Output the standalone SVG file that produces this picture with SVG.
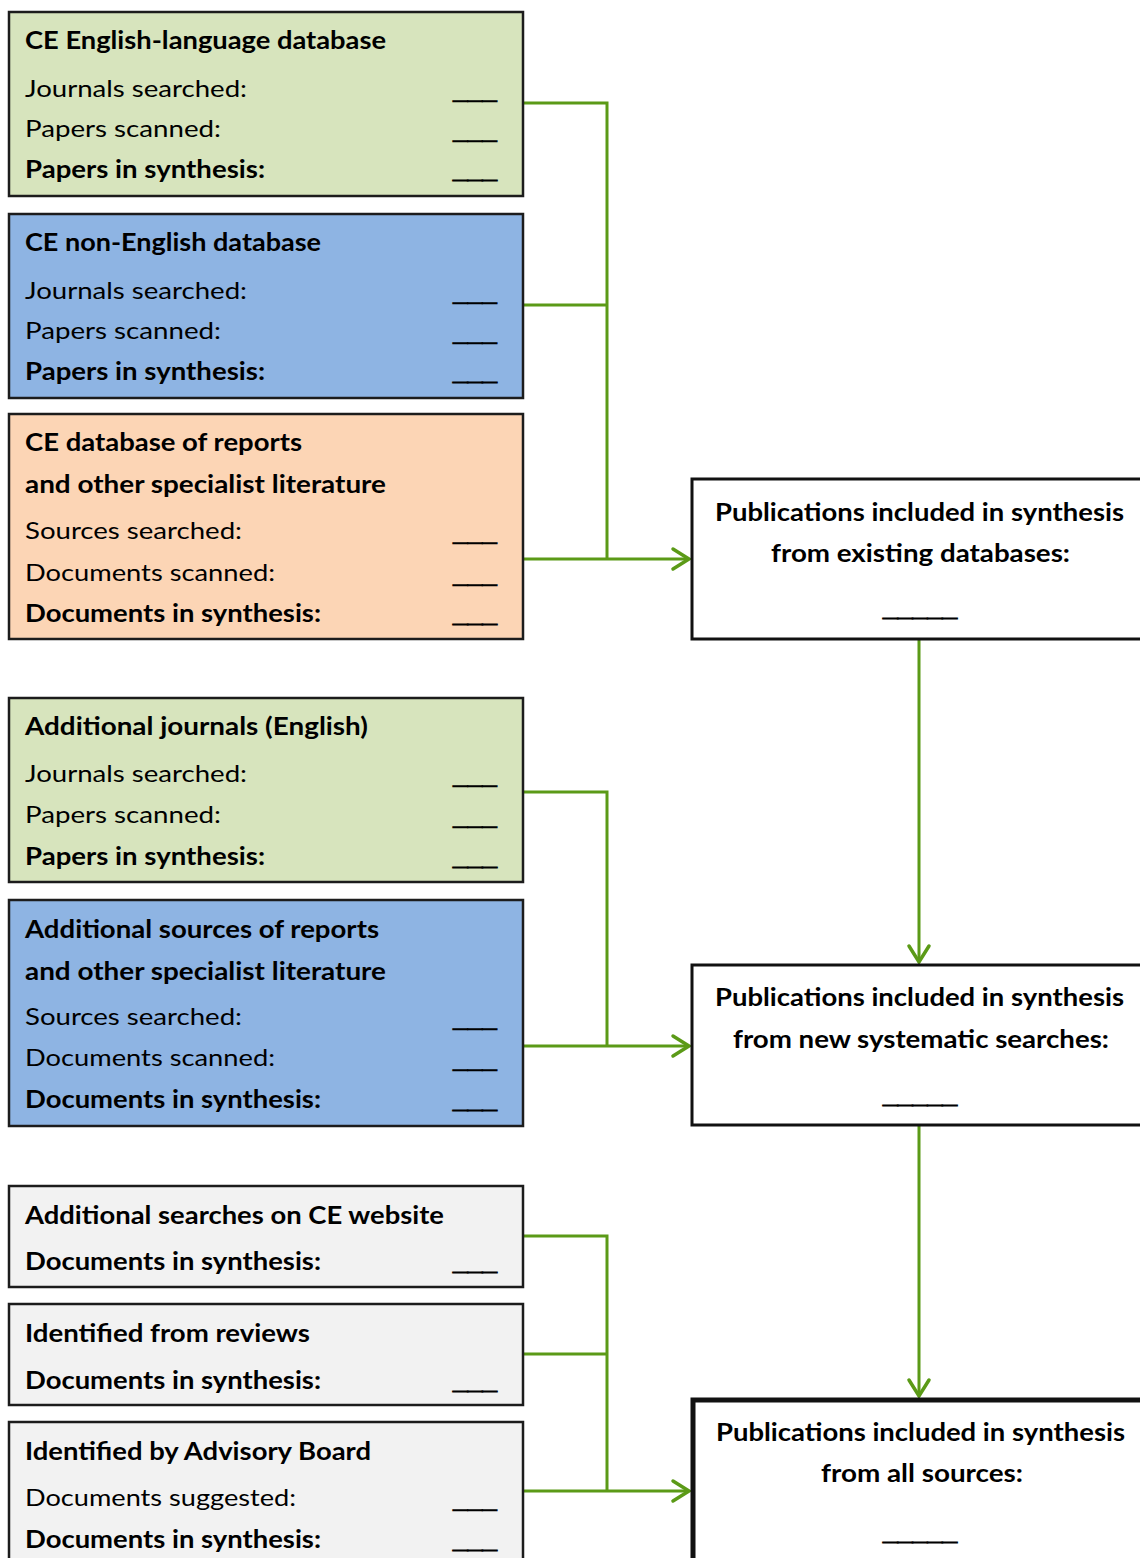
<svg xmlns="http://www.w3.org/2000/svg" width="1140" height="1558" viewBox="0 0 1140 1558">
<defs>
<style>
text{font-family:Lato,"Open Sans","Liberation Sans",sans-serif;font-size:24px;fill:#000}
.b{font-weight:bold}
.u{font-family:"Liberation Sans",Arial,sans-serif;stroke:#000;stroke-width:0.5}
.u.b{stroke-width:1.2}
.lbox{stroke:#1c1c1c;stroke-width:2.5}
.g{fill:#d7e4bd}.bl{fill:#8eb4e3}.o{fill:#fcd5b5}.gr{fill:#f2f2f2}
.rbox{fill:#fff;stroke:#111;stroke-width:3}
.c{fill:none;stroke:#5b9a17;stroke-width:3}
.m{text-anchor:middle}
</style>
<marker id="ah" markerUnits="userSpaceOnUse" markerWidth="24" markerHeight="26" viewBox="0 0 24 26" refX="19" refY="13" orient="auto">
<path d="M3,3 L19,13 L3,23" fill="none" stroke="#5b9a17" stroke-width="3.5" stroke-linecap="round" stroke-linejoin="miter"/>
</marker>
</defs>

<g id="connectors">
<path class="c" d="M523,103 H607 V559 M523,305 H607"/>
<path class="c" d="M523,559 H689" marker-end="url(#ah)"/>
<path class="c" d="M523,792 H607 V1046"/>
<path class="c" d="M523,1046 H689" marker-end="url(#ah)"/>
<path class="c" d="M523,1236 H607 V1491 M523,1354 H607"/>
<path class="c" d="M523,1491 H689" marker-end="url(#ah)"/>
<path class="c" d="M919,640 V962" marker-end="url(#ah)"/>
<path class="c" d="M919,1126 V1396" marker-end="url(#ah)"/>
</g>

<g id="n1">
<rect class="lbox g" x="9" y="12" width="514" height="184"/>
<text class="b" x="25" y="49" textLength="361" lengthAdjust="spacingAndGlyphs">CE English-language database</text>
<text x="25" y="97" textLength="222" lengthAdjust="spacingAndGlyphs">Journals searched:</text>
<text class="u" x="453" y="97" textLength="44" lengthAdjust="spacingAndGlyphs">___</text>
<text x="25" y="137" textLength="196" lengthAdjust="spacingAndGlyphs">Papers scanned:</text>
<text class="u" x="453" y="137" textLength="44" lengthAdjust="spacingAndGlyphs">___</text>
<text class="b" x="25" y="178" textLength="240" lengthAdjust="spacingAndGlyphs">Papers in synthesis:</text>
<text class="b u" x="453" y="178" textLength="44" lengthAdjust="spacingAndGlyphs">___</text>
</g>

<g id="n2">
<rect class="lbox bl" x="9" y="214" width="514" height="184"/>
<text class="b" x="25" y="251" textLength="296" lengthAdjust="spacingAndGlyphs">CE non-English database</text>
<text x="25" y="299" textLength="222" lengthAdjust="spacingAndGlyphs">Journals searched:</text>
<text class="u" x="453" y="299" textLength="44" lengthAdjust="spacingAndGlyphs">___</text>
<text x="25" y="339" textLength="196" lengthAdjust="spacingAndGlyphs">Papers scanned:</text>
<text class="u" x="453" y="339" textLength="44" lengthAdjust="spacingAndGlyphs">___</text>
<text class="b" x="25" y="380" textLength="240" lengthAdjust="spacingAndGlyphs">Papers in synthesis:</text>
<text class="b u" x="453" y="380" textLength="44" lengthAdjust="spacingAndGlyphs">___</text>
</g>

<g id="n3">
<rect class="lbox o" x="9" y="414" width="514" height="225"/>
<text class="b" x="25" y="451" textLength="277" lengthAdjust="spacingAndGlyphs">CE database of reports</text>
<text class="b" x="25" y="493" textLength="361" lengthAdjust="spacingAndGlyphs">and other specialist literature</text>
<text x="25" y="539" textLength="217" lengthAdjust="spacingAndGlyphs">Sources searched:</text>
<text class="u" x="453" y="539" textLength="44" lengthAdjust="spacingAndGlyphs">___</text>
<text x="25" y="581" textLength="250" lengthAdjust="spacingAndGlyphs">Documents scanned:</text>
<text class="u" x="453" y="581" textLength="44" lengthAdjust="spacingAndGlyphs">___</text>
<text class="b" x="25" y="622" textLength="296" lengthAdjust="spacingAndGlyphs">Documents in synthesis:</text>
<text class="b u" x="453" y="622" textLength="44" lengthAdjust="spacingAndGlyphs">___</text>
</g>

<g id="n4">
<rect class="lbox g" x="9" y="698" width="514" height="184"/>
<text class="b" x="25" y="735" textLength="343" lengthAdjust="spacingAndGlyphs">Additional journals (English)</text>
<text x="25" y="782" textLength="222" lengthAdjust="spacingAndGlyphs">Journals searched:</text>
<text class="u" x="453" y="782" textLength="44" lengthAdjust="spacingAndGlyphs">___</text>
<text x="25" y="823" textLength="196" lengthAdjust="spacingAndGlyphs">Papers scanned:</text>
<text class="u" x="453" y="823" textLength="44" lengthAdjust="spacingAndGlyphs">___</text>
<text class="b" x="25" y="865" textLength="240" lengthAdjust="spacingAndGlyphs">Papers in synthesis:</text>
<text class="b u" x="453" y="865" textLength="44" lengthAdjust="spacingAndGlyphs">___</text>
</g>

<g id="n5">
<rect class="lbox bl" x="9" y="900" width="514" height="226"/>
<text class="b" x="25" y="938" textLength="354" lengthAdjust="spacingAndGlyphs">Additional sources of reports</text>
<text class="b" x="25" y="980" textLength="361" lengthAdjust="spacingAndGlyphs">and other specialist literature</text>
<text x="25" y="1025" textLength="217" lengthAdjust="spacingAndGlyphs">Sources searched:</text>
<text class="u" x="453" y="1025" textLength="44" lengthAdjust="spacingAndGlyphs">___</text>
<text x="25" y="1066" textLength="250" lengthAdjust="spacingAndGlyphs">Documents scanned:</text>
<text class="u" x="453" y="1066" textLength="44" lengthAdjust="spacingAndGlyphs">___</text>
<text class="b" x="25" y="1108" textLength="296" lengthAdjust="spacingAndGlyphs">Documents in synthesis:</text>
<text class="b u" x="453" y="1108" textLength="44" lengthAdjust="spacingAndGlyphs">___</text>
</g>

<g id="n6">
<rect class="lbox gr" x="9" y="1186" width="514" height="101"/>
<text class="b" x="25" y="1224" textLength="419" lengthAdjust="spacingAndGlyphs">Additional searches on CE website</text>
<text class="b" x="25" y="1270" textLength="296" lengthAdjust="spacingAndGlyphs">Documents in synthesis:</text>
<text class="b u" x="453" y="1270" textLength="44" lengthAdjust="spacingAndGlyphs">___</text>
</g>

<g id="n7">
<rect class="lbox gr" x="9" y="1304" width="514" height="101"/>
<text class="b" x="25" y="1342" textLength="285" lengthAdjust="spacingAndGlyphs">Identified from reviews</text>
<text class="b" x="25" y="1389" textLength="296" lengthAdjust="spacingAndGlyphs">Documents in synthesis:</text>
<text class="b u" x="453" y="1389" textLength="44" lengthAdjust="spacingAndGlyphs">___</text>
</g>

<g id="n8">
<rect class="lbox gr" x="9" y="1422" width="514" height="150"/>
<text class="b" x="25" y="1460" textLength="346" lengthAdjust="spacingAndGlyphs">Identified by Advisory Board</text>
<text x="25" y="1506" textLength="271" lengthAdjust="spacingAndGlyphs">Documents suggested:</text>
<text class="u" x="453" y="1506" textLength="44" lengthAdjust="spacingAndGlyphs">___</text>
<text class="b" x="25" y="1548" textLength="296" lengthAdjust="spacingAndGlyphs">Documents in synthesis:</text>
<text class="b u" x="453" y="1548" textLength="44" lengthAdjust="spacingAndGlyphs">___</text>
</g>

<g id="r1">
<rect class="rbox" x="692" y="479" width="460" height="160"/>
<text class="b m" x="919.5" y="521" textLength="409" lengthAdjust="spacingAndGlyphs">Publications included in synthesis</text>
<text class="b m" x="920.5" y="562" textLength="299" lengthAdjust="spacingAndGlyphs">from existing databases:</text>
<text class="b m u" x="920" y="616" textLength="74" lengthAdjust="spacingAndGlyphs">_____</text>
</g>

<g id="r2">
<rect class="rbox" x="692" y="965" width="460" height="160"/>
<text class="b m" x="919.5" y="1006" textLength="409" lengthAdjust="spacingAndGlyphs">Publications included in synthesis</text>
<text class="b m" x="921" y="1048" textLength="376" lengthAdjust="spacingAndGlyphs">from new systematic searches:</text>
<text class="b m u" x="920" y="1103" textLength="74" lengthAdjust="spacingAndGlyphs">_____</text>
</g>

<g id="r3">
<rect class="rbox" x="693" y="1400" width="460" height="180" style="stroke-width:5"/>
<text class="b m" x="920.5" y="1441" textLength="409" lengthAdjust="spacingAndGlyphs">Publications included in synthesis</text>
<text class="b m" x="922" y="1482" textLength="202" lengthAdjust="spacingAndGlyphs">from all sources:</text>
<text class="b m u" x="920" y="1540" textLength="74" lengthAdjust="spacingAndGlyphs">_____</text>
</g>
</svg>
